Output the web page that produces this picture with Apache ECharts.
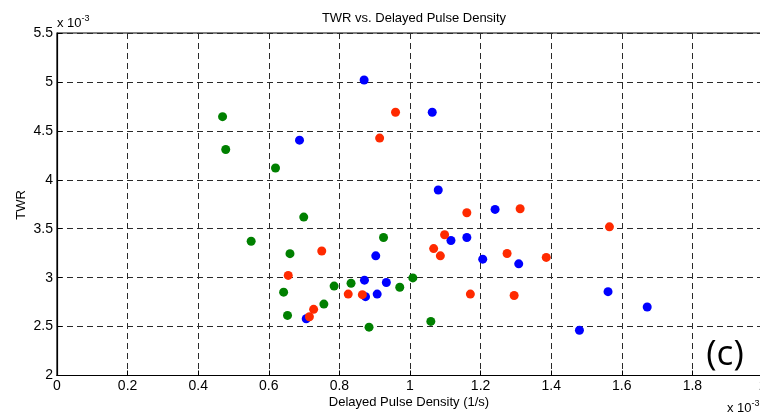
<!DOCTYPE html>
<html>
<head>
<meta charset="utf-8">
<script src="https://cdn.jsdelivr.net/npm/echarts@6/dist/echarts.min.js"></script>
<style>html,body{margin:0;padding:0;background:#fff;}#c{width:760px;height:414px;}</style>
</head>
<body>
<div id="c"></div>
<script>
// values in units of 1e-3
const xTicks = [0, 0.2, 0.4, 0.6, 0.8, 1, 1.2, 1.4, 1.6, 1.8, 2];
const yTicks = [2, 2.5, 3, 3.5, 4, 4.5, 5, 5.5];

const blueX = [0.870, 1.063, 0.687, 1.080, 0.871, 0.874, 0.907, 0.706, 0.903, 1.241, 1.116, 1.161, 1.206, 1.308, 0.933, 1.561, 1.672, 1.480];
const blueY = [5.02, 4.69, 4.405, 3.896, 2.974, 2.806, 2.832, 2.58, 3.223, 3.697, 3.38, 3.41, 3.189, 3.141, 2.95, 2.857, 2.70, 2.462];

const redX = [0.959, 0.914, 0.750, 0.655, 0.825, 0.865, 0.727, 0.715, 1.161, 1.312, 1.098, 1.067, 1.086, 1.275, 1.386, 1.171, 1.295, 1.565];
const redY = [4.69, 4.426, 3.272, 3.023, 2.832, 2.826, 2.676, 2.60, 3.663, 3.704, 3.438, 3.297, 3.223, 3.247, 3.207, 2.832, 2.818, 3.519];

const greenX = [0.469, 0.478, 0.619, 0.699, 0.550, 0.660, 0.642, 0.785, 0.833, 0.756, 0.653, 0.884, 0.925, 1.008, 0.971, 1.059];
const greenY = [4.645, 4.31, 4.12, 3.619, 3.372, 3.245, 2.852, 2.914, 2.943, 2.730, 2.614, 2.494, 3.41, 2.997, 2.902, 2.553];

const zip = (a, b) => a.map((v, i) => [v, b[i]]);
const fmt = v => String(+v.toFixed(1));

const chart = echarts.init(document.getElementById('c'), null, {renderer: 'canvas'});
const font = 'Liberation Sans, Arial, sans-serif';
const gridLine = {show: true, lineStyle: {color: '#2a2a2a', width: 1, type: [6, 4]}};

chart.setOption({
  animation: false,
  backgroundColor: '#fff',
  title: {
    text: 'TWR vs. Delayed Pulse Density',
    left: 409, top: 7, textAlign: 'center',
    textStyle: {fontFamily: font, fontSize: 13, fontWeight: 'normal', color: '#000'}
  },
  grid: {left: 57, top: 33, width: 706, height: 342.5, containLabel: false, outerBoundsMode: 'none', show: true, borderColor: '#000', borderWidth: 1.2, backgroundColor: 'transparent'},
  xAxis: {
    type: 'value', min: xTicks[0], max: xTicks[xTicks.length - 1], interval: 0.2,
    axisLine: {show: true, lineStyle: {color: '#000', width: 1.2}},
    axisTick: {show: true, inside: true, length: 5, lineStyle: {color: '#000'}},
    axisLabel: {color: '#000', fontFamily: font, fontSize: 14, margin: 4, formatter: v => fmt(v), showMaxLabel: true, showMinLabel: true},
    splitLine: gridLine
  },
  yAxis: {
    type: 'value', min: yTicks[0], max: yTicks[yTicks.length - 1], interval: 0.5,
    axisLine: {show: true, lineStyle: {color: '#000', width: 1.2}},
    axisTick: {show: true, inside: true, length: 5, lineStyle: {color: '#000'}},
    axisLabel: {color: '#000', fontFamily: font, fontSize: 14, margin: 4, formatter: v => fmt(v), showMaxLabel: true, showMinLabel: true},
    splitLine: gridLine
  },
  series: [
    {type: 'scatter', data: zip(greenX, greenY), symbol: 'circle', symbolSize: 9, itemStyle: {color: '#008000', opacity: 1}},
    {type: 'scatter', data: zip(blueX, blueY), symbol: 'circle', symbolSize: 9, itemStyle: {color: '#0000ff', opacity: 1}},
    {type: 'scatter', data: zip(redX, redY), symbol: 'circle', symbolSize: 9, itemStyle: {color: '#ff2a00', opacity: 1}}
  ],
  graphic: [
    {type: 'text', left: 57, top: 14, style: {
      text: 'x 10{s|-3}', fontFamily: font, fontSize: 13, fill: '#000',
      rich: {s: {fontSize: 9, verticalAlign: 'top', padding: [0, 0, 10, 0], fontFamily: font, fill: '#000'}}
    }},
    {type: 'text', left: 727, top: 399, style: {
      text: 'x 10{s|-3}', fontFamily: font, fontSize: 13, fill: '#000',
      rich: {s: {fontSize: 9, verticalAlign: 'top', padding: [0, 0, 10, 0], fontFamily: font, fill: '#000'}}
    }},
    {type: 'text', x: 409, y: 402, style: {
      text: 'Delayed Pulse Density (1/s)', fontFamily: font, fontSize: 13, fill: '#000', align: 'center', verticalAlign: 'middle'
    }},
    {type: 'text', x: 21, y: 205, rotation: Math.PI / 2, style: {
      text: 'TWR', fontFamily: font, fontSize: 13, fill: '#000', align: 'center', verticalAlign: 'middle'
    }},
    {type: 'text', x: 725, y: 355, style: {
      text: '(c)', fontFamily: 'Open Sans, Lato, sans-serif', fontSize: 35, fill: '#000', align: 'center', verticalAlign: 'middle'
    }}
  ]
});
</script>
</body>
</html>
